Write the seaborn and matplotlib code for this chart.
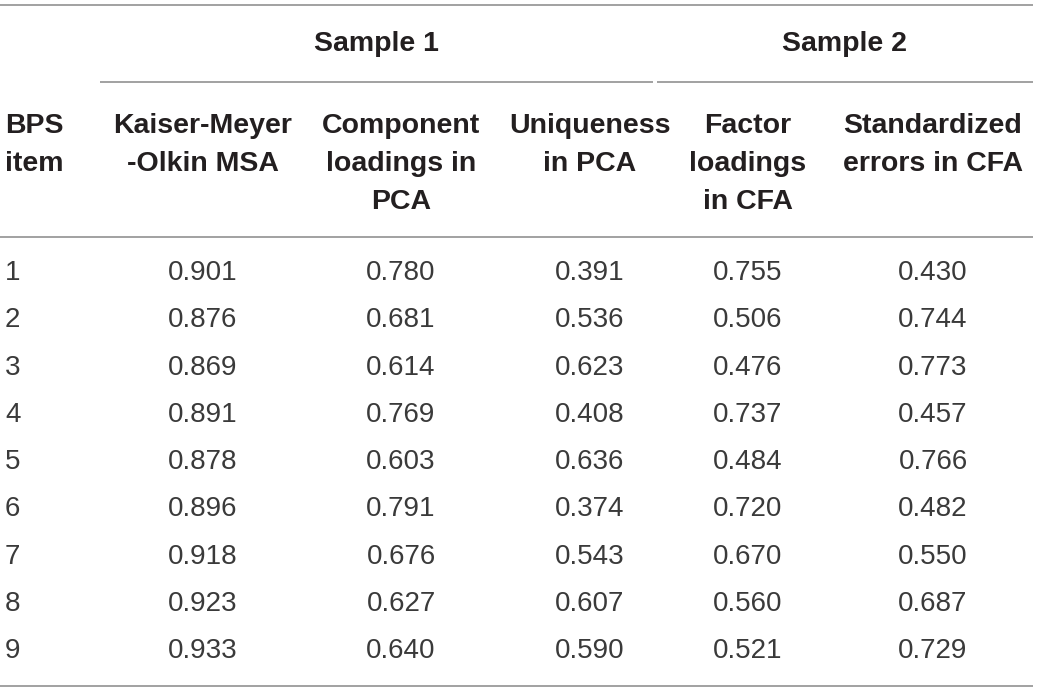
import matplotlib
matplotlib.use("Agg")
import matplotlib.pyplot as plt
import seaborn as sns

# --- Table data ---
items = ["1", "2", "3", "4", "5", "6", "7", "8", "9"]
kmo_msa = ["0.901", "0.876", "0.869", "0.891", "0.878", "0.896", "0.918", "0.923", "0.933"]
pca_loadings = ["0.780", "0.681", "0.614", "0.769", "0.603", "0.791", "0.676", "0.627", "0.640"]
pca_uniqueness = ["0.391", "0.536", "0.623", "0.408", "0.636", "0.374", "0.543", "0.607", "0.590"]
cfa_loadings = ["0.755", "0.506", "0.476", "0.737", "0.484", "0.720", "0.670", "0.560", "0.521"]
cfa_errors = ["0.430", "0.744", "0.773", "0.457", "0.766", "0.482", "0.550", "0.687", "0.729"]

group_labels = ["Sample 1", "Sample 2"]
col_headers = ["BPS\nitem", "Kaiser-Meyer\n-Olkin MSA", "Component\nloadings in\nPCA",
               "Uniqueness\nin PCA", "Factor\nloadings\nin CFA", "Standardized\nerrors in CFA"]

sns.set_theme(style="white")
plt.rcParams['font.family'] = ['Liberation Sans', 'DejaVu Sans']

fig = plt.figure(figsize=(10.39, 6.93), dpi=100)
ax = fig.add_axes([0, 0, 1, 1])
ax.set_xlim(0, 1039)
ax.set_ylim(693, 0)
ax.axis('off')

line_kw = dict(color='#9a9a9a', linewidth=1.3)
col_x = [5, 203, 401, 590, 748, 933]
text_color = '#231f20'
data_color = '#3a3a3a'

# rules
ax.hlines(5, 0, 1033, **line_kw)
ax.hlines(82, 100, 653, **line_kw)
ax.hlines(82, 657, 1033, **line_kw)
ax.hlines(237, 0, 1033, **line_kw)
ax.hlines(686, 0, 1033, **line_kw)

# group headers
ax.text(376, 44, group_labels[0], ha='center', va='center', fontsize=20.5,
        fontweight='bold', color=text_color)
ax.text(845, 44, group_labels[1], ha='center', va='center', fontsize=20.5,
        fontweight='bold', color=text_color)

# column headers
for i, h in enumerate(col_headers):
    ha = 'left' if i == 0 else 'center'
    ax.text(col_x[i], 113, h, ha=ha, va='top', fontsize=20.5, fontweight='bold',
            color=text_color, linespacing=1.6, multialignment='center' if i else 'left')

# body rows
columns = [items, kmo_msa, pca_loadings, pca_uniqueness, cfa_loadings, cfa_errors]
row_y0, row_step = 273, 47.3
for c, values in enumerate(columns):
    for r, v in enumerate(values):
        ax.text(col_x[c], row_y0 + r * row_step, v, ha='left' if c == 0 else 'center',
                va='center', fontsize=20, color=data_color)

fig.savefig("out.png", dpi=100)
plt.close(fig)
